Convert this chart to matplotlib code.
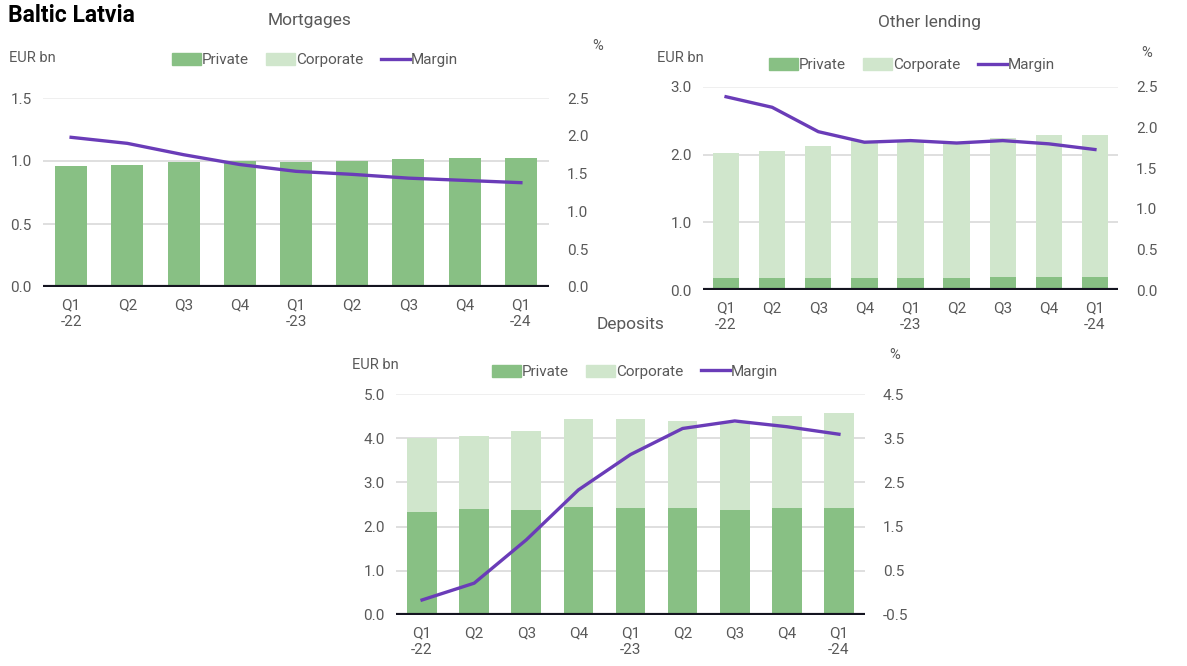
import numpy as np
import matplotlib.pyplot as plt
from matplotlib.patches import Patch
from matplotlib.lines import Line2D

plt.rcParams['font.family'] = ['Roboto', 'DejaVu Sans']

quarters = ['Q1\n-22', 'Q2', 'Q3', 'Q4', 'Q1\n-23', 'Q2', 'Q3', 'Q4', 'Q1\n-24']

# Mortgages
mort_private = [0.96, 0.97, 0.99, 1.00, 0.995, 1.00, 1.015, 1.025, 1.025]
mort_corporate = [0, 0, 0, 0, 0, 0, 0, 0, 0]
mort_margin = [1.98, 1.90, 1.75, 1.62, 1.53, 1.49, 1.44, 1.41, 1.38]

# Other lending
oth_private = [0.17, 0.17, 0.17, 0.17, 0.17, 0.17, 0.19, 0.19, 0.19]
oth_total = [2.03, 2.06, 2.13, 2.20, 2.21, 2.19, 2.25, 2.29, 2.29]
oth_margin = [2.38, 2.25, 1.95, 1.82, 1.84, 1.81, 1.84, 1.80, 1.73]

# Deposits
dep_private = [2.34, 2.39, 2.37, 2.45, 2.42, 2.42, 2.37, 2.42, 2.42]
dep_total = [4.00, 4.05, 4.16, 4.44, 4.44, 4.39, 4.34, 4.50, 4.58]
dep_margin = [-0.16, 0.22, 1.20, 2.33, 3.13, 3.72, 3.89, 3.76, 3.59]

C_PRIV = '#88c084'
C_CORP = '#d0e6cc'
C_MARG = '#6a3cb8'
C_TXT = '#595959'
FS = 11


def panel(fig, rect, title, title_xy, private, corporate, margin,
          ylim, yticks, y2lim, y2ticks, eur_xy, pct_xy, leg_xy):
    ax = fig.add_axes(rect)
    x = np.arange(len(quarters))
    ax.bar(x, private, width=0.57, color=C_PRIV, zorder=2)
    ax.bar(x, corporate, width=0.57, bottom=private, color=C_CORP, zorder=2)
    ax.set_xlim(-0.5, len(quarters) - 0.5)
    ax.set_ylim(*ylim)
    ax.set_yticks(yticks)
    ax.set_yticklabels([f'{v:.1f}' for v in yticks])
    ax.set_xticks(x)
    ax.set_xticklabels(quarters, linespacing=1.3)
    for s in ['top', 'right', 'left', 'bottom']:
        ax.spines[s].set_visible(False)
    for v in yticks[1:]:
        c = '#ececec' if v == yticks[-1] else '#d9d9d9'
        ax.axhline(v, color=c, linewidth=1.2, zorder=0)
    ax.axhline(ylim[0], color='#141420', linewidth=3, zorder=4)
    ax.tick_params(length=0, labelsize=FS, labelcolor=C_TXT, pad=8)
    ax.tick_params(axis='x', pad=8)

    ax2 = ax.twinx()
    ax2.plot(x, margin, color=C_MARG, linewidth=2.4, zorder=5)
    ax2.set_ylim(*y2lim)
    ax2.set_yticks(y2ticks)
    ax2.set_yticklabels([f'{v:.1f}' for v in y2ticks])
    for s in ['top', 'right', 'left', 'bottom']:
        ax2.spines[s].set_visible(False)
    ax2.tick_params(length=0, labelsize=FS, labelcolor=C_TXT, pad=13)

    fig.text(title_xy[0], title_xy[1], title, fontsize=12.5, color=C_TXT,
             ha='center', va='center')
    fig.text(eur_xy[0], eur_xy[1], 'EUR bn', fontsize=FS - 0.5, color=C_TXT,
             ha='left', va='center')
    fig.text(pct_xy[0], pct_xy[1], '%', fontsize=FS - 0.5, color=C_TXT,
             ha='center', va='center')
    handles = [Patch(color=C_PRIV), Patch(color=C_CORP),
               Line2D([0], [0], color=C_MARG, linewidth=2.4)]
    fig.legend(handles, ['Private', 'Corporate', 'Margin'], ncol=3,
               frameon=False, loc='center', bbox_to_anchor=leg_xy,
               fontsize=FS, labelcolor=C_TXT, handlelength=1.9,
               handleheight=0.8, handletextpad=0.1, columnspacing=1.1)
    return ax


W, H = 1187, 666
fig = plt.figure(figsize=(W / 100, H / 100), dpi=100)


def fx(px):
    return px / W


def fy(py):
    return 1 - py / H


panel(fig, [fx(43), fy(287), fx(506), fy(98) - fy(287)], 'Mortgages',
      (fx(310), fy(20)), mort_private, mort_corporate, mort_margin,
      (0, 1.5), [0.0, 0.5, 1.0, 1.5], (0, 2.5), [0.0, 0.5, 1.0, 1.5, 2.0, 2.5],
      (fx(9), fy(58)), (fx(598), fy(46)), (fx(315), fy(60)))

oth_corp = [t - p for t, p in zip(oth_total, oth_private)]
panel(fig, [fx(703), fy(290), fx(415), fy(87) - fy(290)], 'Other lending',
      (fx(930), fy(22)), oth_private, oth_corp, oth_margin,
      (0, 3.0), [0.0, 1.0, 2.0, 3.0], (0, 2.5), [0.0, 0.5, 1.0, 1.5, 2.0, 2.5],
      (fx(657), fy(58)), (fx(1147), fy(53)), (fx(912), fy(65)))

dep_corp = [t - p for t, p in zip(dep_total, dep_private)]
panel(fig, [fx(396), fy(615), fx(469), fy(394) - fy(615)], 'Deposits',
      (fx(631), fy(324)), dep_private, dep_corp, dep_margin,
      (0, 5.0), [0.0, 1.0, 2.0, 3.0, 4.0, 5.0], (-0.5, 4.5),
      [-0.5, 0.5, 1.5, 2.5, 3.5, 4.5],
      (fx(352), fy(365)), (fx(895), fy(355)), (fx(635), fy(372)))

fig.text(fx(8), fy(16), 'Baltic Latvia', fontsize=16.5, fontweight='bold',
         color='black', ha='left', va='center')

fig.savefig('out.png', dpi=100)
